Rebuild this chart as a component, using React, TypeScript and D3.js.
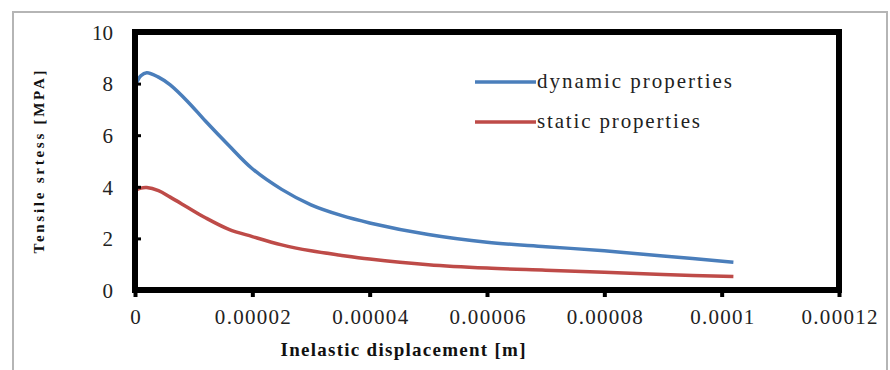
import * as d3 from 'd3';
import { useEffect, useRef } from 'react';

// inelastic displacement [m]
const displacement = [
  0, 0.000001, 0.000002, 0.000004, 0.000006, 0.000009, 0.000012, 0.000016,
  0.00002, 0.000025, 0.00003, 0.000035, 0.00004, 0.00005, 0.00006, 0.00007,
  0.00008, 0.00009, 0.000102,
];
// tensile stress [MPa]
const dynamicStress = [
  7.9, 8.3, 8.42, 8.25, 7.95, 7.3, 6.55, 5.6, 4.7, 3.9, 3.3, 2.9, 2.6, 2.15,
  1.85, 1.68, 1.52, 1.32, 1.08,
];
const staticStress = [
  3.85, 3.95, 3.97, 3.85, 3.6, 3.2, 2.8, 2.35, 2.07, 1.75, 1.52, 1.35, 1.2,
  0.98, 0.85, 0.77, 0.69, 0.6, 0.52,
];
const seriesNames = ['dynamic properties', 'static properties'];
const seriesColors = ['#4a7ebb', '#be4b48'];
const xTicks = [0, 0.00002, 0.00004, 0.00006, 0.00008, 0.0001, 0.00012];
const xTickLabels = ['0', '0.00002', '0.00004', '0.00006', '0.00008', '0.0001', '0.00012'];
const yTicks = [0, 2, 4, 6, 8, 10];

export default function App() {
  const svgRef = useRef(null);

  useEffect(() => {
    const svgEl = svgRef.current;
    if (!svgEl) return;
    d3.select(svgEl).selectAll('*').remove();

    const width = 890;
    const height = 370;
    const left = 135;
    const right = 839;
    const top = 32;
    const bottom = 290;
    const font = "'Liberation Serif', 'Times New Roman', serif";

    const svg = d3
      .select(svgEl)
      .attr('width', width)
      .attr('height', height)
      .style('font-family', font);

    svg.append('rect').attr('width', width).attr('height', height).attr('fill', '#fff');
    // outer chart frame
    svg
      .append('rect')
      .attr('x', 13)
      .attr('y', 12)
      .attr('width', 874)
      .attr('height', 360)
      .attr('fill', 'none')
      .attr('stroke', '#b5b5b5')
      .attr('stroke-width', 2);

    const x = d3.scaleLinear().domain([0, 0.00012]).range([left, right]);
    const y = d3.scaleLinear().domain([0, 10]).range([bottom, top]);

    const line = d3
      .line<number>()
      .x((_, i) => x(displacement[i]))
      .y((d) => y(d))
      .curve(d3.curveCatmullRom.alpha(0.5));

    [dynamicStress, staticStress].forEach((s, i) => {
      svg
        .append('path')
        .datum(s)
        .attr('d', line)
        .attr('fill', 'none')
        .attr('stroke', seriesColors[i])
        .attr('stroke-width', 3.5)
        .attr('stroke-linejoin', 'round');
    });

    // plot frame
    svg
      .append('rect')
      .attr('x', left)
      .attr('y', top)
      .attr('width', right - left)
      .attr('height', bottom - top)
      .attr('fill', 'none')
      .attr('stroke', '#000')
      .attr('stroke-width', 6);

    // y axis
    const yAxis = svg
      .append('g')
      .attr('transform', `translate(${left},0)`)
      .call(d3.axisLeft(y).tickValues(yTicks).tickSize(-6).tickPadding(22));
    yAxis.attr('font-family', null);
    yAxis.select('.domain').remove();
    yAxis.selectAll('line').attr('stroke', '#000').attr('stroke-width', 3);
    yAxis
      .selectAll('text')
      .style('font-family', font)
      .attr('font-size', 21)
      .attr('fill', '#222')
      .attr('dy', '0.35em');

    // x axis
    const xAxis = svg
      .append('g')
      .attr('transform', `translate(0,${bottom})`)
      .call(
        d3
          .axisBottom(x)
          .tickValues(xTicks)
          .tickSize(7)
          .tickPadding(12)
          .tickFormat((_, i) => xTickLabels[i])
      );
    xAxis.attr('font-family', null);
    xAxis.select('.domain').remove();
    xAxis.selectAll('line').attr('stroke', '#000').attr('stroke-width', 4);
    xAxis
      .selectAll('text')
      .style('font-family', font)
      .attr('font-size', 21)
      .attr('textLength', (_, i) => (i === 0 ? null : i === 5 ? 64 : 76))
      .attr('fill', '#222');

    // axis titles
    svg
      .append('text')
      .attr('x', 403)
      .attr('y', 356)
      .attr('text-anchor', 'middle')
      .style('font-family', font)
      .attr('font-weight', 'bold')
      .attr('font-size', 19)
      .attr('textLength', 245)
      .attr('fill', '#111')
      .text('Inelastic displacement [m]');

    svg
      .append('text')
      .attr('transform', `translate(44,162) rotate(-90)`)
      .attr('text-anchor', 'middle')
      .style('font-family', font)
      .attr('font-weight', 'bold')
      .attr('font-size', 15)
      .attr('textLength', 183)
      .attr('fill', '#111')
      .text('Tensile srtess [MPA]');

    // legend
    const legend = svg.append('g');
    seriesNames.forEach((name, i) => {
      const ly = 82 + i * 40;
      legend
        .append('line')
        .attr('x1', 475)
        .attr('x2', 536)
        .attr('y1', ly)
        .attr('y2', ly)
        .attr('stroke', seriesColors[i])
        .attr('stroke-width', 3.5);
      legend
        .append('text')
        .attr('x', 537)
        .attr('y', ly + 6)
        .style('font-family', font)
        .attr('font-size', 21)
        .attr('textLength', i === 0 ? 195 : 163)
        .attr('fill', '#222')
        .text(name);
    });
  }, []);

  return <svg ref={svgRef} style={{ position: 'absolute', left: 0, top: 0 }} />;
}
